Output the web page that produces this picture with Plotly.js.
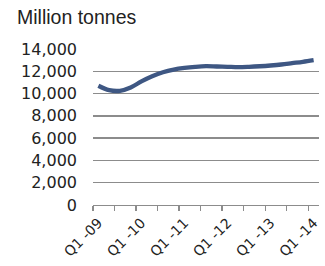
<!DOCTYPE html>
<html>
<head>
<meta charset="utf-8">
<script src="https://cdn.plot.ly/plotly-3.0.1.min.js"></script>
<style>html,body{margin:0;padding:0;background:#fff;}#chart{width:325px;height:266px;}</style>
</head>
<body>
<div id="chart"></div>
<script>
var categories = ["Q1 -09","Q2 -09","Q3 -09","Q4 -09",
  "Q1 -10","Q2 -10","Q3 -10","Q4 -10",
  "Q1 -11","Q2 -11","Q3 -11","Q4 -11",
  "Q1 -12","Q2 -12","Q3 -12","Q4 -12",
  "Q1 -13","Q2 -13","Q3 -13","Q4 -13",
  "Q1 -14"];
var values = [10700, 10310, 10250, 10550, 11090, 11550, 11910, 12150, 12300, 12400, 12460,
  12430, 12400, 12370, 12400, 12450, 12520, 12610, 12730, 12850, 13000];
var labelEvery = 4;
var yTicks = [0, 2000, 4000, 6000, 8000, 10000, 12000, 14000];

var xIdx = categories.map(function(_, i){ return i; });
var labelIdx = xIdx.filter(function(i){ return i % labelEvery === 0; });
var labelText = labelIdx.map(function(i){ return categories[i]; });
var boundaries = [];
for (var b = -0.5; b < categories.length - 1; b += 2) boundaries.push(b);

var trace = {
  x: xIdx, y: values, type: 'scatter', mode: 'lines',
  line: {color: '#3E5783', width: 4.3, shape: 'spline', smoothing: 1},
  hoverinfo: 'none'
};

var layout = {
  width: 325, height: 266,
  margin: {l: 93, r: 6, t: 49, b: 61},
  paper_bgcolor: '#fff', plot_bgcolor: '#fff',
  showlegend: false,
  title: {text: 'Million tonnes', x: 17/325, xanchor: 'left', xref: 'container',
    y: 1 - 17/266, yanchor: 'middle', yref: 'container',
    font: {family: 'Liberation Sans, Arial, sans-serif', size: 19.5, color: '#222'}},
  xaxis: {
    type: 'linear', range: [-0.5, categories.length - 0.5],
    tickmode: 'array', tickvals: labelIdx, ticktext: labelText,
    ticks: '', tickangle: -45,
    ticklabelstandoff: 3,
    tickfont: {family: 'DejaVu Sans, sans-serif', size: 14, color: '#222'},
    showgrid: false, zeroline: false,
    showline: true, linecolor: '#8c8c8c', linewidth: 1.3,
    minor: {tickmode: 'array', tickvals: boundaries, ticks: 'outside', ticklen: 5, tickcolor: '#8c8c8c', tickwidth: 1.3, showgrid: false},
    fixedrange: true
  },
  yaxis: {
    range: [0, 14000], tickmode: 'array', tickvals: yTicks, tickformat: ',',
    showgrid: true, gridcolor: '#8c8c8c', gridwidth: 1.3,
    zeroline: false, showline: false, ticks: '',
    ticklabelstandoff: 15,
    tickfont: {family: 'DejaVu Sans, sans-serif', size: 16, color: '#222'},
    fixedrange: true
  }
};

Plotly.newPlot('chart', [trace], layout, {staticPlot: true, displayModeBar: false});
</script>
</body>
</html>
